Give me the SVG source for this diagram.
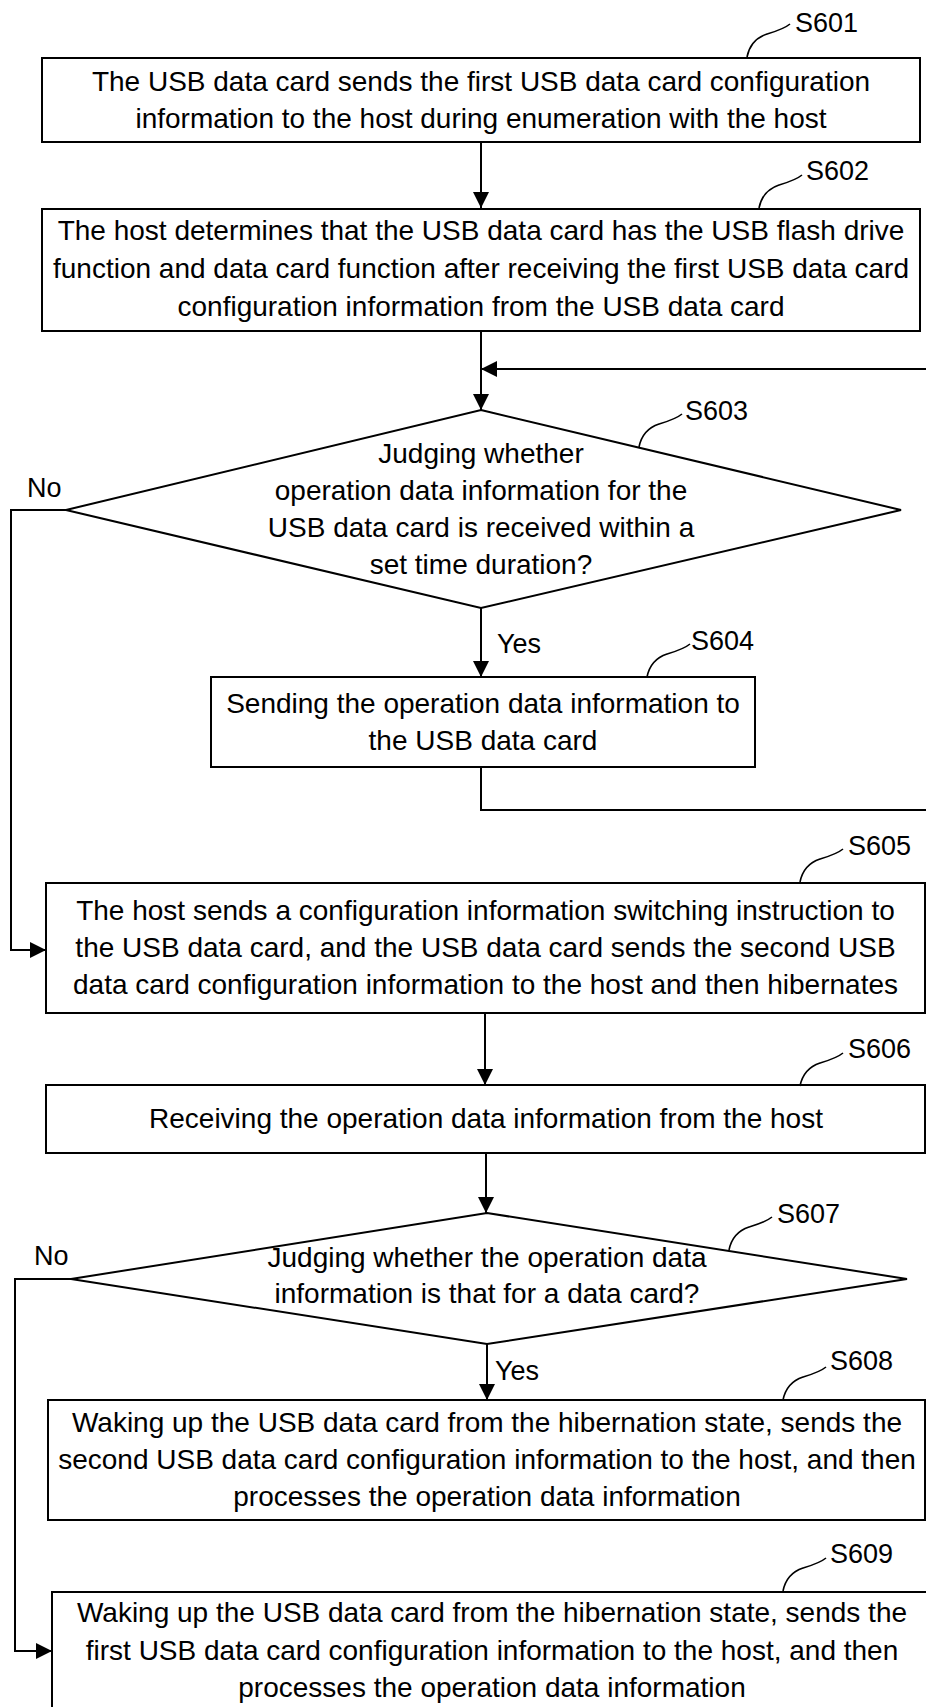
<svg xmlns="http://www.w3.org/2000/svg" xmlns:xlink="http://www.w3.org/1999/xlink" width="926" height="1707" viewBox="0 0 926 1707">
<style>
.box{fill:#fff;stroke:#000;stroke-width:2}
.t{font-family:"Liberation Sans",Arial,sans-serif;font-size:28px;fill:#000;text-anchor:middle}
.lbl{font-family:"Liberation Sans",Arial,sans-serif;font-size:27px;fill:#000}
.ln{fill:none;stroke:#000;stroke-width:2}
.ld{fill:none;stroke:#000;stroke-width:1.6}
</style>
<defs>
<marker id="ah" viewBox="0 0 16 16" refX="16" refY="8" markerWidth="16" markerHeight="16" markerUnits="userSpaceOnUse" orient="auto"><path d="M0,0 L16,8 L0,16 z" fill="#000"/></marker>
<path id="leader" d="M0,0 C2,-10 8,-19 20,-23 C30,-26 37,-28 43,-33" class="ld"/>
</defs>
<rect width="926" height="1707" fill="#fff"/>
<g id="connectors">
<path class="ln" d="M481,142 V208" marker-end="url(#ah)"/>
<path class="ln" d="M481,331 V410" marker-end="url(#ah)"/>
<path class="ln" d="M481,608 V677" marker-end="url(#ah)"/>
<path class="ln" d="M481,767 V810 H935 V369 H481" marker-end="url(#ah)"/>
<path class="ln" d="M66,510 H11 V950 H46" marker-end="url(#ah)"/>
<path class="ln" d="M485,1013 V1085" marker-end="url(#ah)"/>
<path class="ln" d="M486,1153 V1213" marker-end="url(#ah)"/>
<path class="ln" d="M487,1344 V1400" marker-end="url(#ah)"/>
<path class="ln" d="M71,1279 H15 V1651 H52" marker-end="url(#ah)"/>
<text class="lbl" x="27" y="497">No</text>
<text class="lbl" x="497" y="653">Yes</text>
<text class="lbl" x="34" y="1265">No</text>
<text class="lbl" x="495" y="1380">Yes</text>
</g>
<g id="s601">
<rect class="box" x="42" y="58" width="878" height="84"/>
<text class="t" x="481" y="90.5">The USB data card sends the first USB data card configuration</text>
<text class="t" x="481" y="128">information to the host during enumeration with the host</text>
<use xlink:href="#leader" x="747" y="57"/>
<text class="lbl" x="795" y="32">S601</text>
</g>
<g id="s602">
<rect class="box" x="42" y="209" width="878" height="122"/>
<text class="t" x="481" y="240">The host determines that the USB data card has the USB flash drive</text>
<text class="t" x="481" y="278">function and data card function after receiving the first USB data card</text>
<text class="t" x="481" y="316">configuration information from the USB data card</text>
<use xlink:href="#leader" x="759" y="208"/>
<text class="lbl" x="806" y="180">S602</text>
</g>
<g id="s603">
<polygon class="box" points="481,410 901,510 481,608 66,510"/>
<text class="t" x="481" y="463">Judging whether</text>
<text class="t" x="481" y="500">operation data information for the</text>
<text class="t" x="481" y="537">USB data card is received within a</text>
<text class="t" x="481" y="573.5">set time duration?</text>
<use xlink:href="#leader" x="639" y="447"/>
<text class="lbl" x="685" y="420">S603</text>
</g>
<g id="s604">
<rect class="box" x="211" y="677" width="544" height="90"/>
<text class="t" x="483" y="713">Sending the operation data information to</text>
<text class="t" x="483" y="750">the USB data card</text>
<use xlink:href="#leader" x="647" y="677"/>
<text class="lbl" x="691" y="650">S604</text>
</g>
<g id="s605">
<rect class="box" x="46" y="883" width="879" height="130"/>
<text class="t" x="485.5" y="920">The host sends a configuration information switching instruction to</text>
<text class="t" x="485.5" y="957">the USB data card, and the USB data card sends the second USB</text>
<text class="t" x="485.5" y="994">data card configuration information to the host and then hibernates</text>
<use xlink:href="#leader" x="800" y="882"/>
<text class="lbl" x="848" y="855">S605</text>
</g>
<g id="s606">
<rect class="box" x="46" y="1085" width="879" height="68"/>
<text class="t" x="486" y="1128">Receiving the operation data information from the host</text>
<use xlink:href="#leader" x="800" y="1086"/>
<text class="lbl" x="848" y="1058">S606</text>
</g>
<g id="s607">
<polygon class="box" points="487,1213 907,1279 487,1344 71,1279"/>
<text class="t" x="487" y="1267">Judging whether the operation data</text>
<text class="t" x="487" y="1303">information is that for a data card?</text>
<use xlink:href="#leader" x="729" y="1250"/>
<text class="lbl" x="777" y="1223">S607</text>
</g>
<g id="s608">
<rect class="box" x="48" y="1400" width="877" height="120"/>
<text class="t" x="487" y="1432">Waking up the USB data card from the hibernation state, sends the</text>
<text class="t" x="487" y="1469">second USB data card configuration information to the host, and then</text>
<text class="t" x="487" y="1506">processes the operation data information</text>
<use xlink:href="#leader" x="783" y="1400"/>
<text class="lbl" x="830" y="1370">S608</text>
</g>
<g id="s609">
<rect class="box" x="52" y="1592" width="880" height="140"/>
<text class="t" x="492" y="1622">Waking up the USB data card from the hibernation state, sends the</text>
<text class="t" x="492" y="1660">first USB data card configuration information to the host, and then</text>
<text class="t" x="492" y="1697">processes the operation data information</text>
<use xlink:href="#leader" x="783" y="1591"/>
<text class="lbl" x="830" y="1563">S609</text>
</g>
</svg>
